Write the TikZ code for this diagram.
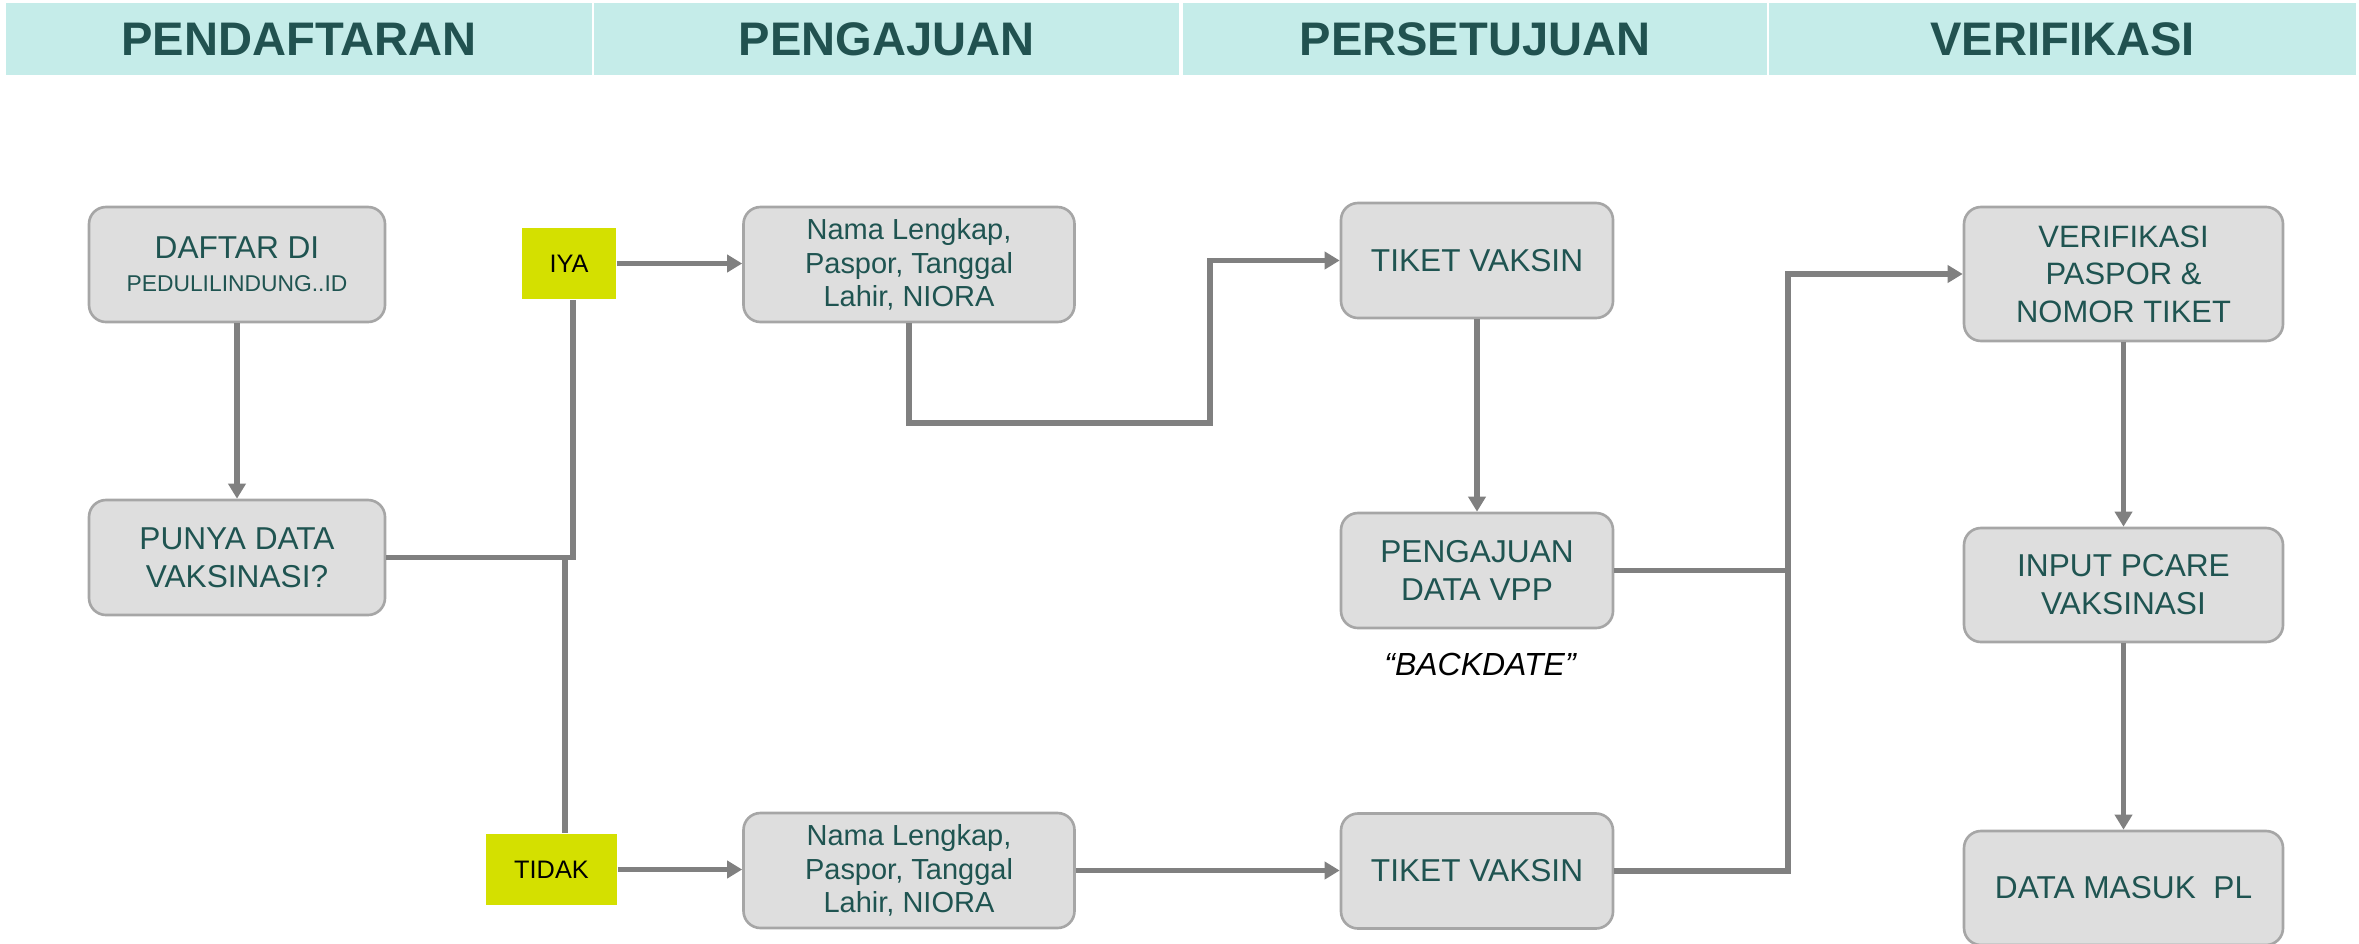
\documentclass[tikz,border=0pt]{standalone}
\usepackage{fontspec}
\setmainfont{Liberation Sans}
\usepackage{tikz}
\usetikzlibrary{arrows.meta}
\usepackage{xcolor}
\definecolor{hdrfill}{RGB}{197,236,233}
\definecolor{hdrtext}{RGB}{33,82,80}
\definecolor{boxfill}{RGB}{222,222,222}
\definecolor{boxdraw}{RGB}{166,166,166}
\definecolor{boxtext}{RGB}{31,84,81}
\definecolor{linkgray}{RGB}{128,128,128}
\definecolor{yesno}{RGB}{212,224,0}
\tikzstyle{arrow} = [line width=1.55pt,-{Triangle[length=0.15cm,width=0.17cm]},color=linkgray]
\tikzstyle{link} = [line width=1.55pt,color=linkgray]
\tikzstyle{header} = [rectangle, fill=hdrfill, minimum height=0.72cm, text=hdrtext, font=\fontsize{13.4pt}{15pt}\selectfont\bfseries]
\tikzstyle{process} = [rectangle, rounded corners=0.17cm, minimum height=1.15cm, align=center, draw=boxdraw, fill=boxfill, line width=0.75pt, text=boxtext, font=\fontsize{9pt}{10.8pt}\selectfont]
\tikzstyle{choice} = [rectangle, fill=yesno, minimum height=0.71cm, font=\fontsize{7.2pt}{8pt}\selectfont]

\begin{document}
\begin{tikzpicture}
\useasboundingbox (0,0) rectangle (23.59,9.43);
% Header
\node[header, minimum width=5.86cm] (hdr1) at (2.99,9.04) {PENDAFTARAN};
\node[header, minimum width=5.85cm] (hdr2) at (8.865,9.04) {PENGAJUAN};
\node[header, minimum width=5.84cm] (hdr3) at (14.75,9.04) {PERSETUJUAN};
\node[header, minimum width=5.87cm] (hdr4) at (20.625,9.04) {VERIFIKASI};

% Pendaftaran
\node[process, minimum width=2.96cm] (daftar) at (2.37,6.785) {DAFTAR DI\\[-1.5pt]{\fontsize{6.5pt}{7.5pt}\selectfont PEDULILINDUNG..ID}};
\node[process, minimum width=2.96cm] (punya) at (2.37,3.855) {PUNYA DATA\\VAKSINASI?};
\node[choice, minimum width=0.94cm] (iya) at (5.69,6.795) {IYA};
\node[choice, minimum width=1.31cm] (tidak) at (5.515,0.735) {TIDAK};

% Pengajuan
\node[process, minimum width=3.31cm, font=\fontsize{8.25pt}{9.5pt}\selectfont] (nama1) at (9.09,6.785) {Nama Lengkap,\\Paspor, Tanggal\\Lahir, NIORA};
\node[process, minimum width=3.31cm, font=\fontsize{8.25pt}{9.5pt}\selectfont] (nama2) at (9.09,0.725) {Nama Lengkap,\\Paspor, Tanggal\\Lahir, NIORA};

% Persetujuan
\node[process, minimum width=2.72cm] (tiket1) at (14.77,6.825) {TIKET VAKSIN};
\node[process, minimum width=2.72cm] (vpp) at (14.77,3.725) {PENGAJUAN\\DATA VPP};
\node (backdate) at (14.80,2.79) {\fontsize{9.1pt}{10pt}\selectfont\itshape “BACKDATE”};
\node[process, minimum width=2.72cm] (tiket2) at (14.77,0.72) {TIKET VAKSIN};

% Verifikasi
\node[process, minimum width=3.19cm, minimum height=1.34cm, font=\fontsize{8.8pt}{10.7pt}\selectfont] (verif) at (21.235,6.69) {VERIFIKASI\\PASPOR \&\\NOMOR TIKET};
\node[process, minimum width=3.19cm, minimum height=1.14cm] (input) at (21.235,3.58) {INPUT PCARE\\VAKSINASI};
\node[process, minimum width=3.19cm, minimum height=1.14cm] (masuk) at (21.235,0.55) {DATA MASUK~~PL};

% Bends
\coordinate (turn1) at (12.10,5.20);
\coordinate (join) at (17.88,6.69);

% Arrows
\draw[arrow] (daftar) -- (punya);
\draw[link] (punya.east) -| ([xshift=0.04cm]iya.south);
\draw[link] (punya.east) -| ([xshift=0.135cm]tidak.north);
\draw[arrow] (iya.east) -- (iya.east -| nama1.west);
\draw[arrow] (tidak.east) -- (tidak.east -| nama2.west);
\draw[arrow] (nama1.south) |- (turn1) |- (tiket1.west);
\draw[arrow] (nama2.east) -- (nama2.east -| tiket2.west);
\draw[arrow] (tiket1) -- (vpp);
\draw[link] (vpp.east) -- (vpp.east -| join);
\draw[arrow] (tiket2.east) -| (join) -- (verif.west);
\draw[arrow] (verif) -- (input);
\draw[arrow] (input) -- (masuk);
\end{tikzpicture}
\end{document}
